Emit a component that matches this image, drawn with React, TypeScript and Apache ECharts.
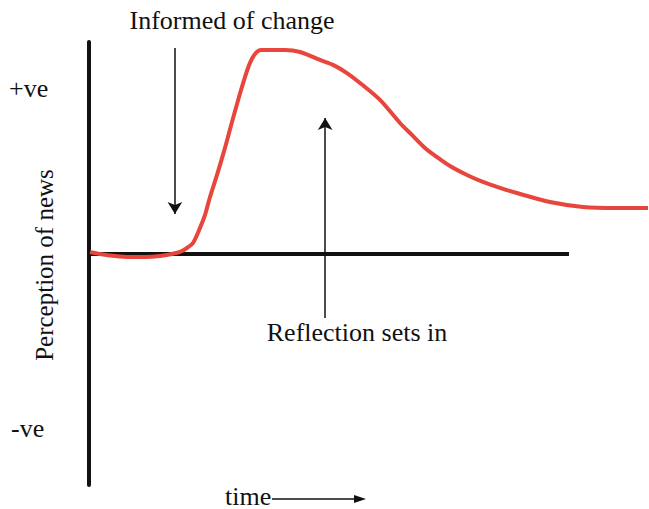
import React, { useEffect, useRef } from "react";
import * as echarts from "echarts";

// time units (0..100 = length of the time axis), perception units (+ve = 10)
const curveTime = [0.21, 2.29, 5.42, 8.54, 11.67, 14.79, 17.29, 18.96, 20.42, 21.67, 23.13, 24.17, 25.21, 26.67, 28.33, 29.79, 31.25, 32.5, 33.54, 34.58, 35.83, 37.71, 40.83, 43.96, 48.13, 50.83, 53.75, 56.46, 60.63, 64.79, 67.29, 70.0, 72.5, 75.21, 78.75, 82.08, 85.63, 89.17, 96.04, 102.92, 110.0, 116.46];
const curvePerception = [0.12, 0, -0.12, -0.18, -0.18, -0.12, 0, 0.12, 0.36, 0.66, 1.57, 2.35, 3.43, 4.76, 6.39, 7.95, 9.46, 10.66, 11.51, 12.05, 12.29, 12.29, 12.29, 12.17, 11.69, 11.39, 10.9, 10.3, 9.28, 7.89, 7.17, 6.39, 5.84, 5.3, 4.76, 4.34, 3.98, 3.67, 3.13, 2.83, 2.77, 2.77];

const baselineTime = [0, 100];
const baselinePerception = [0, 0];

// annotation arrows: [startTime, startPerception, endTime, endPerception]
const informedArrow = [17.9, 12.41, 17.9, 2.41];
const reflectionArrow = [49.2, -3.86, 49.2, 8.19];

const axisRange = { tMin: 0, tMax: 116.67, pMin: -13.92, pMax: 12.77 };

const FONT = "'Liberation Serif', 'Times New Roman', serif";

export default function App() {
  const ref = useRef<HTMLDivElement>(null);
  useEffect(() => {
    document.body.style.margin = "0";
    if (!ref.current) return;
    const chart = echarts.init(ref.current, undefined, { renderer: "svg" });
    const curve = curveTime.map((t, i) => [t, curvePerception[i]]);
    const baseline = baselineTime.map((t, i) => [t, baselinePerception[i]]);
    const textStyle = { fill: "#111", fontFamily: FONT, fontSize: 26 };
    chart.setOption({
      animation: false,
      backgroundColor: "#ffffff",
      grid: { left: 89, right: 0, top: 42, bottom: 24 },
      xAxis: {
        type: "value",
        min: axisRange.tMin,
        max: axisRange.tMax,
        axisLine: { show: false },
        axisTick: { show: false },
        axisLabel: { show: false },
        splitLine: { show: false },
      },
      yAxis: {
        type: "value",
        min: axisRange.pMin,
        max: axisRange.pMax,
        axisLine: { show: true, lineStyle: { color: "#111", width: 4 } },
        axisTick: { show: false },
        axisLabel: { show: false },
        splitLine: { show: false },
      },
      series: [
        {
          type: "line",
          data: baseline,
          symbol: "none",
          lineStyle: { color: "#111", width: 4 },
          silent: true,
          z: 2,
          markLine: {
            silent: true,
            symbol: ["none", "arrow"],
            symbolSize: [11, 12],
            label: { show: false },
            lineStyle: { color: "#111", width: 1.5, type: "solid" },
            emphasis: { disabled: true },
            data: [
              [
                { coord: [informedArrow[0], informedArrow[1]] },
                { coord: [informedArrow[2], informedArrow[3]] },
              ],
              [
                { coord: [reflectionArrow[0], reflectionArrow[1]] },
                { coord: [reflectionArrow[2], reflectionArrow[3]] },
              ],
            ],
          },
        },
        {
          type: "line",
          data: curve,
          symbol: "none",
          smooth: 0.3,
          lineStyle: { color: "#e8453c", width: 4 },
          silent: true,
          z: 3,
        },
      ],
      graphic: [
        { type: "text", x: 232, y: 20, style: { ...textStyle, text: "Informed of change", textAlign: "center", textVerticalAlign: "middle" } },
        { type: "text", x: 9, y: 88, style: { ...textStyle, text: "+ve", textAlign: "left", textVerticalAlign: "middle" } },
        { type: "text", x: 11, y: 428, style: { ...textStyle, text: "-ve", textAlign: "left", textVerticalAlign: "middle" } },
        { type: "text", x: 44, y: 265, rotation: Math.PI / 2, style: { ...textStyle, fontSize: 25, text: "Perception of news", textAlign: "center", textVerticalAlign: "middle" } },
        { type: "text", x: 357, y: 332, style: { ...textStyle, text: "Reflection sets in", textAlign: "center", textVerticalAlign: "middle" } },
        { type: "text", x: 225, y: 496, style: { ...textStyle, text: "time", textAlign: "left", textVerticalAlign: "middle" } },
        { type: "line", shape: { x1: 272, y1: 499, x2: 356, y2: 499 }, style: { stroke: "#111", lineWidth: 1.3 } },
        { type: "polygon", shape: { points: [[354, 495], [366, 499], [354, 503]] }, style: { fill: "#111" } },
      ],
    });
    return () => chart.dispose();
  }, []);
  return <div ref={ref} style={{ width: 649, height: 509 }} />;
}
